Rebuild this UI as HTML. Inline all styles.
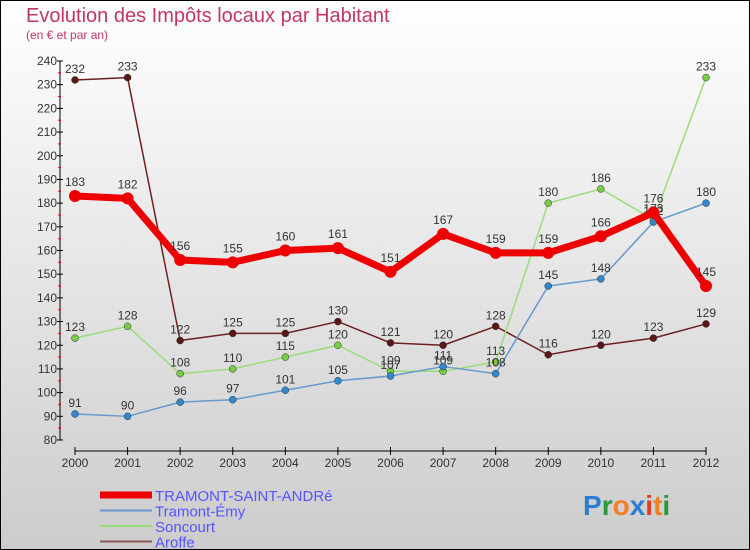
<!DOCTYPE html>
<html><head><meta charset="utf-8"><style>
body{margin:0;width:750px;height:550px;overflow:hidden;font-family:"Liberation Sans",sans-serif}
svg{display:block}
</style></head><body>
<svg id="c" width="750" height="550">
<defs><linearGradient id="bg" x1="0" y1="0" x2="0" y2="1"><stop offset="0" stop-color="#ffffff"/><stop offset="1" stop-color="#cccccc"/></linearGradient></defs>
<rect x="0.5" y="0.5" width="749" height="549" fill="url(#bg)" stroke="#000"/>
<text x="26" y="22" font-size="20" fill="#c0385f">Evolution des Impôts locaux par Habitant</text>
<text x="26" y="39" font-size="12" fill="#c0385f">(en € et par an)</text>
<g id="axes"></g><g id="series"></g><g id="legend"></g>
<text x="583" y="515" font-size="28" font-weight="bold"><tspan fill="#2a7fd4">P</tspan><tspan fill="#2a9a3a">r</tspan><tspan fill="#f08020">o</tspan><tspan fill="#2a7fd4">x</tspan><tspan fill="#e04020">i</tspan><tspan fill="#f08020">t</tspan><tspan fill="#2a9a3a">i</tspan></text>
</svg>
<script>
const years=[2000,2001,2002,2003,2004,2005,2006,2007,2008,2009,2010,2011,2012];
const yTicks=[80,90,100,110,120,130,140,150,160,170,180,190,200,210,220,230,240];
const tramontSaintAndre=[183,182,156,155,160,161,151,167,159,159,166,176,145];
const tramontEmy=[91,90,96,97,101,105,107,111,108,145,148,172,180];
const soncourt=[123,128,108,110,115,120,109,109,113,180,186,173,233];
const aroffe=[232,233,122,125,125,130,121,120,128,116,120,123,129];
const seriesNames=["TRAMONT-SAINT-ANDRé","Tramont-Émy","Soncourt","Aroffe"];
const NS="http://www.w3.org/2000/svg";
const X=i=>75+i*(706-75)/(years.length-1);
const Y=v=>440-(v-80)*(440-61)/160;
function mk(p,t,a){const e=document.createElementNS(NS,t);for(const k in a)e.setAttribute(k,a[k]);p.appendChild(e);return e;}
const ax=document.getElementById('axes');
let l=mk(ax,'line',{x1:60,y1:Y(240),x2:60,y2:Y(80),stroke:'#000','stroke-width':1});


l=mk(ax,'line',{x1:75,y1:451,x2:706,y2:451,stroke:'#000','stroke-width':1});


yTicks.forEach((v,i)=>{
 mk(ax,'line',{x1:57,y1:Y(v),x2:63,y2:Y(v),stroke:'#000'});
 if(i<yTicks.length-1)mk(ax,'line',{x1:58,y1:Y(v+5),x2:61,y2:Y(v+5),stroke:'#e00'});
 const t=mk(ax,'text',{x:57,y:Y(v)+4,'font-size':12,'text-anchor':'end',fill:'#333'});t.textContent=v;
 
 
});
years.forEach((yr,i)=>{
 mk(ax,'line',{x1:X(i),y1:447,x2:X(i),y2:455,stroke:'#000'});
 const t=mk(ax,'text',{x:X(i),y:467,'font-size':12,'text-anchor':'middle',fill:'#333'});t.textContent=yr;
 
 
});
const sg=document.getElementById('series');
const defs=[[aroffe,'#6e2020','#5a1515',1.5,3.5,'aroffe'],[soncourt,'#99dd77','#77cc44',1.5,3.5,'soncourt'],[tramontEmy,'#6699cc','#3388cc',1.5,3.5,'tramont-emy'],[tramontSaintAndre,'#ee0000','#ee0000',7,6,'tramont-saint-andre']];
defs.forEach(([d,c,pc,w,r,n])=>{
 const g=mk(sg,'g',{});
 
 
 mk(g,'polyline',{points:d.map((v,i)=>X(i)+','+Y(v)).join(' '),fill:'none',stroke:c,'stroke-width':w,'stroke-linejoin':'round'});
 d.forEach((v,i)=>{
  const p=mk(g,'circle',{cx:X(i),cy:Y(v),r:r,fill:pc,stroke:w>3?'#ee0000':'#333','stroke-width':w>3?0:0.5});
  
  
  const t=mk(g,'text',{x:X(i),y:Y(v)-(w>3?10:7),'font-size':12,'text-anchor':'middle',fill:'#333'});t.textContent=v;
  
  
 });
});
const lg=document.getElementById('legend');
const lc=[['#ee0000',7],['#6699cc',2],['#99dd77',2],['#8a5a5a',2]];
seriesNames.forEach((n,i)=>{
 const y=495+i*15.5;
 const g=mk(lg,'g',{});
 
 
 mk(g,'line',{x1:100,y1:y,x2:152,y2:y,stroke:lc[i][0],'stroke-width':lc[i][1]});
 const t=mk(g,'text',{x:155,y:y+6,'font-size':15,fill:'#5555ff'});t.textContent=n;
});
</script>
</body></html>
